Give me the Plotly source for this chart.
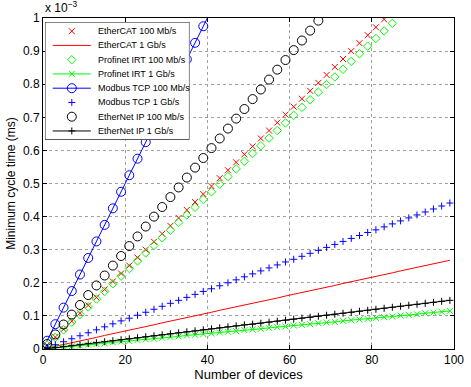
import plotly.graph_objects as go

# Number of devices (every second value is marked)
devices = [1, 3, 5, 7, 9, 11, 13, 15, 17, 19, 21, 23, 25, 27, 29, 31, 33, 35, 37, 39,
           41, 43, 45, 47, 49, 51, 53, 55, 57, 59, 61, 63, 65, 67, 69, 71, 73, 75, 77, 79,
           81, 83, 85, 87, 89, 91, 93, 95, 97, 99]

# Minimum cycle time, in units of 1e-3 ms
ethercat_100 = [0.012, 0.036, 0.060, 0.084, 0.108, 0.132, 0.156, 0.180, 0.204, 0.228,
                0.252, 0.276, 0.300, 0.324, 0.348, 0.372, 0.396, 0.420, 0.444, 0.468,
                0.492, 0.516, 0.540, 0.564, 0.588, 0.612, 0.636, 0.660, 0.684, 0.708,
                0.732, 0.756, 0.780, 0.804, 0.828, 0.852, 0.876, 0.900, 0.924, 0.948,
                0.972, 0.996]
ethercat_1g = [0.003, 0.008, 0.014, 0.019, 0.024, 0.030, 0.035, 0.041, 0.046, 0.051,
               0.057, 0.062, 0.068, 0.073, 0.079, 0.084, 0.089, 0.095, 0.100, 0.106,
               0.111, 0.117, 0.122, 0.127, 0.133, 0.138, 0.144, 0.149, 0.154, 0.160,
               0.165, 0.171, 0.176, 0.182, 0.187, 0.192, 0.198, 0.203, 0.209, 0.214,
               0.220, 0.225, 0.230, 0.236, 0.241, 0.247, 0.252, 0.257, 0.263, 0.268]
profinet_100 = [0.012, 0.035, 0.058, 0.081, 0.104, 0.127, 0.151, 0.174, 0.197, 0.220,
                0.243, 0.266, 0.290, 0.313, 0.336, 0.359, 0.382, 0.405, 0.428, 0.452,
                0.475, 0.498, 0.521, 0.544, 0.567, 0.591, 0.614, 0.637, 0.660, 0.683,
                0.706, 0.730, 0.753, 0.776, 0.799, 0.822, 0.845, 0.869, 0.892, 0.915,
                0.938, 0.961, 0.984]
profinet_1g = [0.001, 0.003, 0.006, 0.008, 0.010, 0.013, 0.015, 0.017, 0.020, 0.022,
               0.024, 0.027, 0.029, 0.031, 0.034, 0.036, 0.038, 0.041, 0.043, 0.045,
               0.047, 0.050, 0.052, 0.054, 0.057, 0.059, 0.061, 0.064, 0.066, 0.068,
               0.071, 0.073, 0.075, 0.078, 0.080, 0.082, 0.085, 0.087, 0.089, 0.091,
               0.094, 0.096, 0.098, 0.101, 0.103, 0.105, 0.108, 0.110, 0.112, 0.115]
modbus_100 = [0.025, 0.075, 0.125, 0.175, 0.225, 0.275, 0.325, 0.375, 0.425, 0.475,
              0.525, 0.575, 0.625, 0.675, 0.725, 0.775, 0.825, 0.875, 0.925, 0.975,
              1.025]
modbus_1g = [0.004, 0.013, 0.022, 0.031, 0.040, 0.049, 0.058, 0.067, 0.076, 0.085,
             0.093, 0.102, 0.111, 0.120, 0.129, 0.138, 0.147, 0.156, 0.165, 0.174,
             0.182, 0.191, 0.200, 0.209, 0.218, 0.227, 0.236, 0.245, 0.254, 0.263,
             0.271, 0.280, 0.289, 0.298, 0.307, 0.316, 0.325, 0.334, 0.343, 0.352,
             0.360, 0.369, 0.378, 0.387, 0.396, 0.405, 0.414, 0.423, 0.432, 0.441]
ethernetip_100 = [0.015, 0.044, 0.074, 0.104, 0.133, 0.163, 0.192, 0.222, 0.252, 0.281,
                  0.311, 0.340, 0.370, 0.400, 0.429, 0.459, 0.488, 0.518, 0.548, 0.577,
                  0.607, 0.636, 0.666, 0.696, 0.725, 0.755, 0.784, 0.814, 0.844, 0.873,
                  0.903, 0.932, 0.962, 0.992]
ethernetip_1g = [0.001, 0.004, 0.007, 0.010, 0.013, 0.016, 0.019, 0.022, 0.025, 0.028,
                 0.031, 0.034, 0.037, 0.040, 0.043, 0.046, 0.049, 0.052, 0.055, 0.058,
                 0.061, 0.064, 0.067, 0.070, 0.073, 0.075, 0.078, 0.081, 0.084, 0.087,
                 0.090, 0.093, 0.096, 0.099, 0.102, 0.105, 0.108, 0.111, 0.114, 0.117,
                 0.120, 0.123, 0.126, 0.129, 0.132, 0.135, 0.138, 0.141, 0.144, 0.147]

series_names = ["EtherCAT 100 Mb/s", "EtherCAT 1 Gb/s", "Profinet IRT 100 Mb/s",
                "Profinet IRT 1 Gb/s", "Modbus TCP 100 Mb/s", "Modbus TCP 1 Gb/s",
                "EtherNet IP 100 Mb/s", "EtherNet IP 1 Gb/s"]
series_values = [ethercat_100, ethercat_1g, profinet_100, profinet_1g,
                 modbus_100, modbus_1g, ethernetip_100, ethernetip_1g]

x_ticks = [0, 20, 40, 60, 80, 100]
y_ticks = [0, 0.1, 0.2, 0.3, 0.4, 0.5, 0.6, 0.7, 0.8, 0.9, 1]
y_ticklabels = ["0", "0.1", "0.2", "0.3", "0.4", "0.5", "0.6", "0.7", "0.8", "0.9", "1"]

RED, GREEN, BLUE, BLACK = "#ff0000", "#00ff00", "#0000ff", "#000000"
# (colour, show line, marker symbol or None, marker size)
styles = [
    (RED, False, "x-thin-open", 6),
    (RED, True, None, 0),
    (GREEN, False, "diamond-open", 6.5),
    (GREEN, True, "x-thin-open", 6),
    (BLUE, True, "circle-open", 9),
    (BLUE, False, "cross-thin-open", 5),
    (BLACK, False, "circle-open", 9),
    (BLACK, True, "cross-thin-open", 5),
]


def trace_kwargs(style):
    color, has_line, symbol, size = style
    mode = []
    if has_line:
        mode.append("lines")
    if symbol:
        mode.append("markers")
    kw = dict(mode="+".join(mode), line=dict(color=color, width=1))
    if symbol:
        kw["marker"] = dict(symbol=symbol, size=size, color=color,
                            line=dict(color=color, width=1))
    return kw


fig = go.Figure()
for name, vals, style in zip(series_names, series_values, styles):
    fig.add_trace(go.Scatter(x=devices[:len(vals)], y=vals, name=name,
                             showlegend=False, **trace_kwargs(style)))

# ---- legend drawn on top of the data (pixel-like units of a hidden overlay axis) ----
LEG_X0, LEG_X1, LEG_Y0, LEG_Y1 = 45, 193, 22, 140
PLOT_L, PLOT_R, PLOT_T, PLOT_B = 43, 464, 18, 350
row_first, row_pitch = 31.2, 14.3
key_x0, key_x1, text_x = 53, 92, 97
key_cx = (key_x0 + key_x1) / 2

fig.add_shape(type="rect", xref="x2", yref="y2", x0=LEG_X0, x1=LEG_X1,
              y0=LEG_Y0, y1=LEG_Y1, fillcolor="white",
              line=dict(color="black", width=1), layer="above")


def key_symbol_shape(symbol, size, color, ry):
    r = size / 2
    base = dict(xref="x2", yref="y2", xsizemode="pixel", ysizemode="pixel",
                xanchor=key_cx, yanchor=ry, layer="above",
                line=dict(color=color, width=1))
    if symbol == "circle-open":
        return dict(type="circle", x0=-r, x1=r, y0=-r, y1=r, **base)
    if symbol == "diamond-open":
        d = r * 1.3
        return dict(type="path", path=f"M{-d},0 L0,{d} L{d},0 L0,{-d} Z", **base)
    if symbol == "x-thin-open":
        return dict(type="path", path=f"M{-r},{-r} L{r},{r} M{-r},{r} L{r},{-r}", **base)
    if symbol == "cross-thin-open":
        c = r * 1.4
        return dict(type="path", path=f"M{-c},0 L{c},0 M0,{-c} L0,{c}", **base)
    return None


for i, (name, style) in enumerate(zip(series_names, styles)):
    ry = row_first + i * row_pitch
    color, has_line, symbol, size = style
    if has_line:
        fig.add_shape(type="line", xref="x2", yref="y2", x0=key_x0, x1=key_x1,
                      y0=ry, y1=ry, line=dict(color=color, width=1), layer="above")
    if symbol:
        fig.add_shape(**key_symbol_shape(symbol, size, color, ry))
    fig.add_annotation(xref="x2", yref="y2", x=text_x, y=ry, xanchor="left",
                       yanchor="middle", showarrow=False, text=name,
                       font=dict(size=9, color="black"))

axis_common = dict(showline=True, linecolor="black", linewidth=1, mirror="ticks",
                   ticks="inside", ticklen=4, tickcolor="black",
                   showgrid=True, gridcolor="#a0a0a0", griddash="dot", gridwidth=1,
                   zeroline=False, tickfont=dict(size=12, color="black"),
                   ticklabeloverflow="allow")

fig.update_layout(
    width=471, height=387,
    margin=dict(l=PLOT_L, r=471 - PLOT_R, t=PLOT_T, b=387 - PLOT_B),
    paper_bgcolor="white", plot_bgcolor="white",
    font=dict(family="Liberation Sans, Arial, sans-serif", color="black", size=12),
    xaxis=dict(range=[0, 100], tickvals=x_ticks,
               title=dict(text="Number of devices", standoff=3, font=dict(size=13)),
               **axis_common),
    yaxis=dict(range=[0, 1], tickvals=y_ticks, ticktext=y_ticklabels,
               title=dict(text="Minimum cycle time (ms)", standoff=4, font=dict(size=12)),
               **axis_common),
    xaxis2=dict(domain=[(LEG_X0 - PLOT_L) / (PLOT_R - PLOT_L),
                        (LEG_X1 - PLOT_L) / (PLOT_R - PLOT_L)],
                range=[LEG_X0, LEG_X1], visible=False, anchor="y2", fixedrange=True),
    yaxis2=dict(domain=[1 - (LEG_Y1 - PLOT_T) / (PLOT_B - PLOT_T),
                        1 - (LEG_Y0 - PLOT_T) / (PLOT_B - PLOT_T)],
                range=[LEG_Y1, LEG_Y0], visible=False, anchor="x2", fixedrange=True),
    showlegend=False,
)

fig.add_annotation(xref="paper", yref="paper", x=0, y=1, xanchor="left", yanchor="bottom",
                   yshift=1, showarrow=False, text="x 10<sup>\u22123</sup>",
                   font=dict(size=12, color="black"))

fig.write_html("out.html")
